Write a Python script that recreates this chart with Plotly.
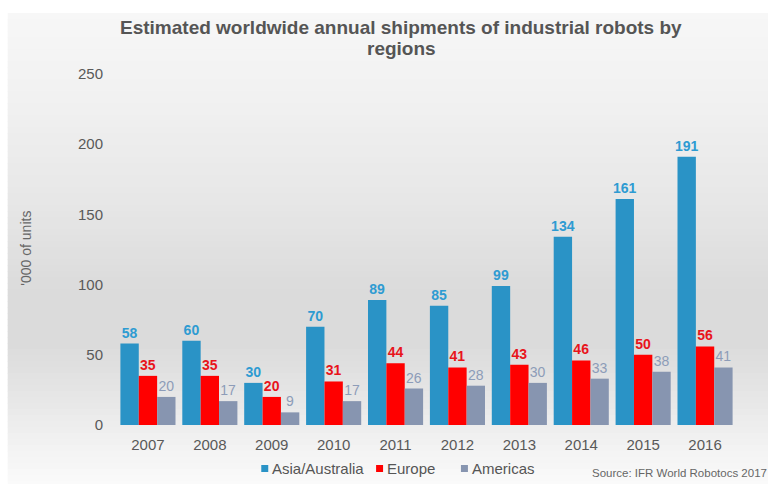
import plotly.graph_objects as go

# Annual shipments of industrial robots ('000 units)
years = ["2007", "2008", "2009", "2010", "2011", "2012", "2013", "2014", "2015", "2016"]
asia = [58, 60, 30, 70, 89, 85, 99, 134, 161, 191]
europe = [35, 35, 20, 31, 44, 41, 43, 46, 50, 56]
americas = [20, 17, 9, 17, 26, 28, 30, 33, 38, 41]
y_ticks = [0, 50, 100, 150, 200, 250]

W, H = 768, 484
L, R, T, B = 116.5, 736.5, 74, 425  # plot area in pixels


def px_x(px):
    return (px - L) / (R - L)


def px_y(py):
    return (B - py) / (B - T)


label_font = "Liberation Sans Narrow, Arial Narrow, Liberation Sans, Arial"

series = [
    ("Asia/Australia", asia, "#2a93c6", "#2e9bd2", True, 261),
    ("Europe", europe, "#ff0000", "#e8141b", True, 376),
    ("Americas", americas, "#8795b0", "#8d9cb8", False, 461),
]

fig = go.Figure()
for name, vals, col, tcol, bold, _ in series:
    fig.add_trace(go.Bar(
        name=name,
        x=years,
        y=vals,
        marker=dict(color=col, line=dict(width=0)),
        text=vals,
        texttemplate="<b>%{y}</b>" if bold else "%{y}",
        textposition="outside",
        constraintext="none",
        textfont=dict(color=tcol, size=14, family=label_font),
        cliponaxis=False,
        showlegend=False,
    ))

# soft grey panel background with a vertical gradient
shapes = []
def shade(py):
    stops = [(13, 247), (100, 241), (200, 231), (290, 219), (345, 219),
             (400, 231), (440, 241), (484, 250)]
    for (a, ca), (b, cb) in zip(stops, stops[1:]):
        if a <= py <= b:
            return ca + (cb - ca) * (py - a) / (b - a)
    return stops[-1][1]

step = 6
py = 13
while py < H:
    c = int(round(shade(py + step / 2)))
    shapes.append(dict(
        type="rect", xref="paper", yref="paper", layer="below",
        x0=px_x(7), x1=px_x(W + 2), y0=px_y(py), y1=px_y(min(py + step + 0.6, H + 2)),
        fillcolor=f"rgb({c},{c},{c})", line=dict(width=0),
    ))
    py += step

# legend: small coloured square followed by the series name
legend_notes = []
for name, _, col, _, _, lx in series:
    shapes.append(dict(
        type="rect", xref="paper", yref="paper",
        x0=px_x(lx), x1=px_x(lx + 7), y0=px_y(472), y1=px_y(465),
        fillcolor=col, line=dict(width=0),
    ))
    legend_notes.append(dict(
        text=name,
        xref="paper", yref="paper",
        x=px_x(lx + 9), y=px_y(468), xanchor="left", yanchor="middle",
        showarrow=False, font=dict(size=15, color="#555555"),
    ))

title_lines = [
    ("Estimated worldwide annual shipments of industrial robots by", 28),
    ("regions", 49),
]
title_notes = [
    dict(
        text=f"<b>{txt}</b>",
        xref="paper", yref="paper",
        x=px_x(401), y=px_y(ty), xanchor="center", yanchor="middle",
        showarrow=False, font=dict(size=19, color="#555555"),
    )
    for txt, ty in title_lines
]

fig.update_layout(
    width=W, height=H,
    margin=dict(l=L, r=W - R, t=T, b=H - B, pad=0),
    paper_bgcolor="white",
    plot_bgcolor="rgba(0,0,0,0)",
    barmode="group",
    bargap=0.11,
    bargroupgap=0,
    shapes=shapes,
    showlegend=False,
    font=dict(family="Liberation Sans, Arial", color="#5a5a5a"),
    xaxis=dict(
        type="category",
        showgrid=False, zeroline=False, showline=False,
        ticks="", tickfont=dict(size=15, color="#595959"),
        ticklabelstandoff=9,
    ),
    yaxis=dict(
        range=[0, 250],
        tickvals=y_ticks,
        showgrid=False, zeroline=False, showline=False,
        ticks="", tickfont=dict(size=15, color="#595959"),
        ticklabelstandoff=13,
    ),
    annotations=title_notes + legend_notes + [
        dict(
            text="'000 of units", textangle=-90,
            xref="paper", yref="paper",
            x=px_x(25), y=px_y(248), xanchor="center", yanchor="middle",
            showarrow=False, font=dict(size=14, color="#666666"),
        ),
        dict(
            text="Source: IFR World Robotocs 2017",
            xref="paper", yref="paper",
            x=px_x(590), y=px_y(473), xanchor="left", yanchor="middle",
            showarrow=False, font=dict(size=11.5, color="#666666"),
        ),
    ],
)

fig.write_html("out.html")
